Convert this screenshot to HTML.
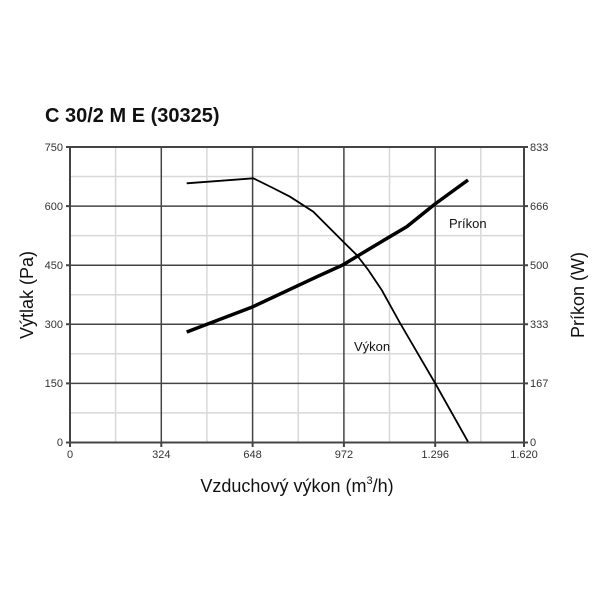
<!DOCTYPE html>
<html><head><meta charset="utf-8"><style>body{margin:0;background:#fff}svg{display:block}</style></head><body>
<svg width="600" height="600" xmlns="http://www.w3.org/2000/svg" font-family="Liberation Sans, sans-serif">
<rect width="600" height="600" fill="#fff"/>
<text x="45" y="122" font-size="20" font-weight="bold" fill="#111">C 30/2 M E (30325)</text>
<g stroke="#d8d8d8" stroke-width="1.5">
<line x1="115.6" y1="147" x2="115.6" y2="442.5"/><line x1="206.9" y1="147" x2="206.9" y2="442.5"/>
<line x1="298.2" y1="147" x2="298.2" y2="442.5"/><line x1="389.5" y1="147" x2="389.5" y2="442.5"/>
<line x1="480.8" y1="147" x2="480.8" y2="442.5"/>
<line x1="70" y1="176.5" x2="524" y2="176.5"/><line x1="70" y1="235.6" x2="524" y2="235.6"/>
<line x1="70" y1="294.7" x2="524" y2="294.7"/><line x1="70" y1="353.8" x2="524" y2="353.8"/>
<line x1="70" y1="412.9" x2="524" y2="412.9"/>
</g>
<g stroke="#444" stroke-width="1.5">
<line x1="161.3" y1="147" x2="161.3" y2="442.5"/><line x1="252.6" y1="147" x2="252.6" y2="442.5"/>
<line x1="343.9" y1="147" x2="343.9" y2="442.5"/><line x1="435.2" y1="147" x2="435.2" y2="442.5"/>
<line x1="70" y1="206.1" x2="524" y2="206.1"/><line x1="70" y1="265.2" x2="524" y2="265.2"/>
<line x1="70" y1="324.3" x2="524" y2="324.3"/><line x1="70" y1="383.4" x2="524" y2="383.4"/>
</g>
<g stroke="#444" stroke-width="2" fill="none">
<rect x="70" y="147" width="454" height="295.5"/>
<path d="M66 147H70M66 206.1H70M66 265.2H70M66 324.3H70M66 383.4H70M66 442.5H70M524 147H528M524 206.1H528M524 265.2H528M524 324.3H528M524 383.4H528M524 442.5H528M70 442.5V447M161.3 442.5V447M252.6 442.5V447M343.9 442.5V447M435.2 442.5V447M524 442.5V447"/>
</g>
<g font-size="11" fill="#333" text-anchor="end">
<text x="63" y="151">750</text><text x="63" y="210">600</text><text x="63" y="269">450</text>
<text x="63" y="328">300</text><text x="63" y="387">150</text><text x="63" y="446">0</text>
</g>
<g font-size="11" fill="#333">
<text x="530" y="151">833</text><text x="530" y="210">666</text><text x="530" y="269">500</text>
<text x="530" y="328">333</text><text x="530" y="387">167</text><text x="530" y="446">0</text>
</g>
<g font-size="11" fill="#333" text-anchor="middle">
<text x="70" y="458">0</text><text x="161.3" y="458">324</text><text x="252.6" y="458">648</text>
<text x="343.9" y="458">972</text><text x="435.2" y="458">1.296</text><text x="524" y="458">1.620</text>
</g>
<text x="297" y="492" font-size="18" fill="#111" text-anchor="middle">Vzduchový výkon (m<tspan font-size="11" dy="-8">3</tspan><tspan dy="8">/h)</tspan></text>
<text transform="translate(33,295) rotate(-90)" font-size="18" fill="#111" text-anchor="middle">Výtlak (Pa)</text>
<text transform="translate(584,295) rotate(-90)" font-size="18" fill="#111" text-anchor="middle">Príkon (W)</text>
<path d="M186.7 183.3L253.3 178.3L273 188L290 196.7L313.3 211.7L323.3 221.7L343.3 241.7L356.7 255L368.3 270L381.7 290L400 323L435 383L468 441.7" fill="none" stroke="#000" stroke-width="1.8"/>
<path d="M186.7 332L253 306.7L317 276.7L342.7 265L373 246.7L406.7 226.7L435 204L468 180" fill="none" stroke="#000" stroke-width="3.5" stroke-linejoin="round"/>
<text x="449" y="228" font-size="13" fill="#111">Príkon</text>
<text x="354" y="351" font-size="13" fill="#111">Výkon</text>
</svg>
</body></html>
